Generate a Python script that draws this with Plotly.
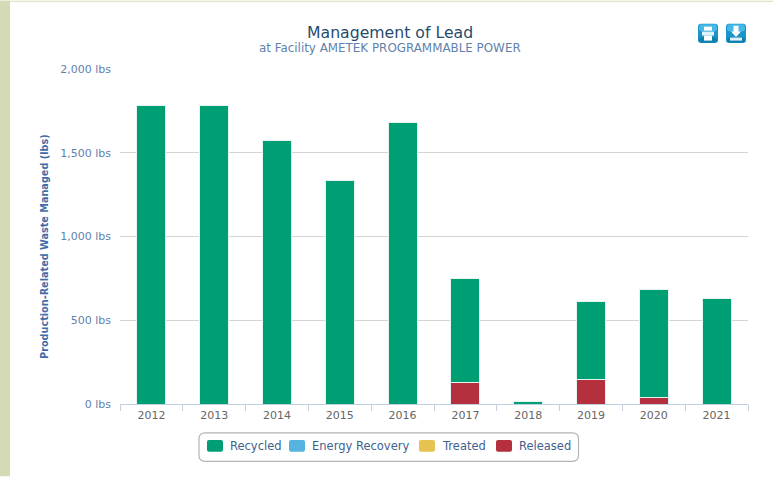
import plotly.graph_objects as go

years = ["2012", "2013", "2014", "2015", "2016", "2017", "2018", "2019", "2020", "2021"]
recycled = [1785, 1785, 1575, 1335, 1680, 617, 12, 465, 645, 630]
energy_recovery = [0, 0, 0, 0, 0, 0, 0, 0, 0, 0]
treated = [0, 0, 0, 0, 0, 0, 0, 0, 0, 0]
released = [0, 0, 0, 0, 0, 130, 0, 145, 40, 0]
y_ticks = [0, 500, 1000, 1500, 2000]
y_tick_labels = ["0 lbs", "500 lbs", "1,000 lbs", "1,500 lbs", "2,000 lbs"]
series_names = ["Recycled", "Energy Recovery", "Treated", "Released"]
series_colors = ["#009F73", "#55B3E0", "#E6C350", "#B5303F"]

FONT = "DejaVu Sans"
W, H = 773, 477
L, R, T, B = 120, 748, 68.5, 404.5


def X(p):
    return (p - L) / (R - L)


def Y(p):
    return (B - p) / (B - T)


def rrect(x0, y0, x1, y1, r):
    return (f"M{X(x0+r)},{Y(y0)} L{X(x1-r)},{Y(y0)} Q{X(x1)},{Y(y0)} {X(x1)},{Y(y0+r)} "
            f"L{X(x1)},{Y(y1-r)} Q{X(x1)},{Y(y1)} {X(x1-r)},{Y(y1)} "
            f"L{X(x0+r)},{Y(y1)} Q{X(x0)},{Y(y1)} {X(x0)},{Y(y1-r)} "
            f"L{X(x0)},{Y(y0+r)} Q{X(x0)},{Y(y0)} {X(x0+r)},{Y(y0)} Z")


def poly(pts):
    return "M" + " L".join(f"{X(a)},{Y(b)}" for a, b in pts) + " Z"


def shape(path, fill, line="rgba(0,0,0,0)", w=0, layer="above"):
    return dict(type="path", xref="paper", yref="paper", path=path, fillcolor=fill,
                line=dict(color=line, width=w), layer=layer)


def note(text, px, py, size, color, angle=0, anchor="center"):
    return dict(text=text, xref="paper", yref="paper", x=X(px), y=Y(py), xanchor=anchor,
                yanchor="middle", textangle=angle, showarrow=False, xshift=0,
                font=dict(size=size, color=color, family=FONT), borderpad=0)


fig = go.Figure()
for name, vals, col in [(series_names[3], released, series_colors[3]),
                        (series_names[2], treated, series_colors[2]),
                        (series_names[1], energy_recovery, series_colors[1]),
                        (series_names[0], recycled, series_colors[0])]:
    fig.add_bar(name=name, x=years, y=vals, width=0.46,
                marker=dict(color=col, line=dict(color="#E4F4EE", width=1)))

shapes = [
    dict(type="rect", xref="paper", yref="paper", x0=X(0), x1=X(10), y0=Y(0), y1=Y(H),
         fillcolor="#D6DAB4", line_width=0, layer="below"),
    dict(type="rect", xref="paper", yref="paper", x0=X(0), x1=X(W), y0=Y(0), y1=Y(1),
         fillcolor="#D6DAB4", line_width=0, layer="below"),
    shape(rrect(199, 433.5, 578.5, 462, 6), "#FFFFFF", "#B4B4B4", 1.2, "below"),
]
for x0 in (698, 726):
    shapes.append(shape(rrect(x0, 23, x0 + 20, 42.5, 3), "#1A93C8"))
    shapes.append(shape(rrect(x0 + 1, 23.5, x0 + 19, 31, 2.5), "#45B8E8"))
    shapes.append(shape(rrect(x0 + 1, 37, x0 + 19, 42, 2.5), "#0F7FAE"))
# print icon
shapes.append(shape(poly([(702, 31), (714, 31), (714, 35), (702, 35)]), "#DDF2FB"))
shapes.append(shape(poly([(704, 26), (712, 26), (712, 30), (704, 30)]), "#FFFFFF"))
shapes.append(shape(poly([(704, 35), (712, 35), (712, 40), (704, 40)]), "#FFFFFF"))
# download icon
shapes.append(shape(poly([(733.5, 25), (738.5, 25), (738.5, 31), (741, 31), (736, 36.5), (731, 31), (733.5, 31)]), "#FFFFFF"))
shapes.append(shape(poly([(730, 37), (742, 37), (742, 40), (730, 40)]), "#DDF2FB"))

# legend key row
notes = [
    note("Management of Lead", 389.5, 31.5, 15.7, "#274B6D"),
    note("at Facility AMETEK PROGRAMMABLE POWER", 389.5, 47.5, 11.9, "#5F82AD"),
    note("<b>Production-Related Waste Managed (lbs)</b>", 45, 247, 9.7, "#3F6CA8", -90),
]
for nm, col, sx, tx in zip(series_names, series_colors, (207, 289, 419, 496), (229, 311, 441, 518)):
    shapes.append(shape(rrect(sx, 440.5, sx + 16, 452.5, 2), col))
    notes.append(note(nm, tx, 447, 11.5, "#3F5F8F", anchor="left"))

fig.update_layout(
    width=W, height=H, autosize=False,
    margin=dict(l=L, r=W - R, t=T, b=H - B, pad=0),
    paper_bgcolor="#FFFFFF", plot_bgcolor="#FFFFFF",
    barmode="stack", bargap=0.54, showlegend=False,
    font=dict(family=FONT, size=12),
    shapes=shapes,
    annotations=notes,
    xaxis=dict(type="category", categoryorder="array", categoryarray=years,
               tickson="boundaries", ticks="outside", ticklen=6, tickwidth=1,
               tickcolor="#C0D0E0", showline=True, linecolor="#C0D0E0", linewidth=1,
               showgrid=False, zeroline=False, ticklabelstandoff=1,
               tickfont=dict(size=11, color="#666666", family=FONT)),
    yaxis=dict(range=[0, 2000], tickmode="array", tickvals=y_ticks, ticktext=y_tick_labels,
               ticks="", ticklabelstandoff=8,
               gridcolor="#D4D4D4", gridwidth=1.4, zeroline=False, showline=False,
               tickfont=dict(size=11, color="#5F82AD", family=FONT)),
)

fig.write_html("out.html", config=dict(displayModeBar=False),
               post_script="document.body.style.margin='0';")
